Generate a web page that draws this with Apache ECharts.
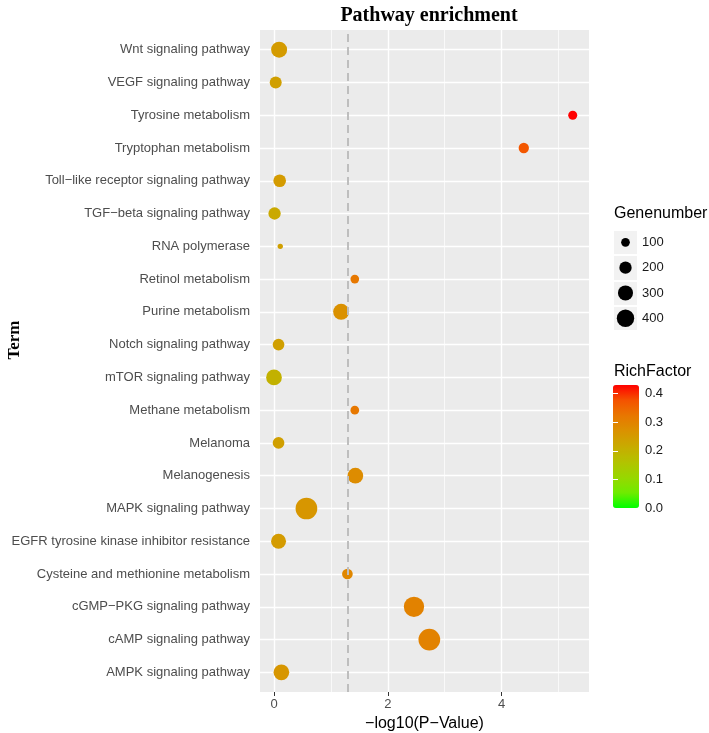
<!DOCTYPE html>
<html>
<head>
<meta charset="utf-8">
<script src="https://cdn.jsdelivr.net/npm/echarts@6/dist/echarts.min.js"></script>
<style>html,body{margin:0;padding:0;background:#fff}#c{width:709px;height:733px}</style>
</head>
<body>
<div id="c"></div>
<script>
// Terms listed bottom -> top (ggplot factor order)
const terms = [
  'AMPK signaling pathway',
  'cAMP signaling pathway',
  'cGMP\u2212PKG signaling pathway',
  'Cysteine and methionine metabolism',
  'EGFR tyrosine kinase inhibitor resistance',
  'MAPK signaling pathway',
  'Melanogenesis',
  'Melanoma',
  'Methane metabolism',
  'mTOR signaling pathway',
  'Notch signaling pathway',
  'Purine metabolism',
  'Retinol metabolism',
  'RNA polymerase',
  'TGF\u2212beta signaling pathway',
  'Toll\u2212like receptor signaling pathway',
  'Tryptophan metabolism',
  'Tyrosine metabolism',
  'VEGF signaling pathway',
  'Wnt signaling pathway'
];
const negLog10P = [0.13, 2.73, 2.46, 1.29, 0.08, 0.57, 1.43, 0.08, 1.42, 0.00, 0.08, 1.18, 1.42, 0.11, 0.01, 0.10, 4.39, 5.25, 0.03, 0.09];
const geneNumber = [325, 622, 545, 150, 297, 622, 325, 180, 100, 325, 180, 338, 100, 37, 200, 212, 141, 107, 190, 338];
const richFactor = [0.26, 0.30, 0.30, 0.29, 0.25, 0.26, 0.28, 0.24, 0.32, 0.20, 0.24, 0.27, 0.32, 0.24, 0.22, 0.25, 0.37, 0.43, 0.24, 0.25];

const xMajorTicks = [0, 2, 4];
const xMinorTicks = [1, 3, 5];
const cutoff = 1.301; // -log10(0.05)
const sizeBreaks = [100, 200, 300, 400];
const colorBreaks = [0, 0.1, 0.2, 0.3, 0.4];
const richMax = 0.43;
// green -> red gradient sampled in CIELAB (as ggplot)
const gradient = ['#00FF00', '#70EB00', '#98D700', '#B3C200', '#C8AB00', '#DA9200', '#E87700', '#F45300', '#FF0000'];

const SIZE_K = 0.87;
const sans = "'Liberation Sans', Arial, sans-serif";
const serif = "'Liberation Serif', 'Times New Roman', serif";

const yIdx = terms.map((t, i) => i + 1);
const points = terms.map((t, i) => [negLog10P[i], i + 1, geneNumber[i], richFactor[i]]);

const chart = echarts.init(document.getElementById('c'), null, {renderer: 'canvas'});

const gridMarks = [];
xMajorTicks.forEach(v => gridMarks.push({xAxis: v, lineStyle: {color: '#FFFFFF', width: 1.4, type: 'solid'}}));
xMinorTicks.forEach(v => gridMarks.push({xAxis: v, lineStyle: {color: '#FFFFFF', width: 0.7, type: 'solid'}}));
yIdx.forEach(v => gridMarks.push({yAxis: v, lineStyle: {color: '#FFFFFF', width: 1.4, type: 'solid'}}));

chart.setOption({
  animation: false,
  backgroundColor: '#FFFFFF',
  title: {
    text: 'Pathway enrichment',
    left: 424, top: 1, textAlign: 'center',
    textStyle: {fontFamily: serif, fontWeight: 'bold', fontSize: 20, color: '#000'}
  },
  grid: [
    {left: 260, right: 120, top: 30, bottom: 41, show: true, backgroundColor: '#EBEBEB', borderWidth: 0, outerBoundsMode: 'none', containLabel: false},
    {left: 614, top: 229.7, width: 23, height: 101.2, show: true, backgroundColor: '#F2F2F2', borderWidth: 0, outerBoundsMode: 'none', containLabel: false},
    {left: 613, top: 385, width: 26, height: 123, show: false, outerBoundsMode: 'none', containLabel: false}
  ],
  xAxis: [
    {
      type: 'value', gridIndex: 0, min: -0.246, max: 5.536,
      name: '\u2212log10(P\u2212Value)', nameLocation: 'middle', nameGap: 22,
      nameTextStyle: {fontFamily: sans, fontSize: 16, color: '#000'},
      axisLine: {show: false},
      axisTick: {show: true, customValues: xMajorTicks, length: 4, lineStyle: {color: '#333333', width: 1}},
      axisLabel: {customValues: xMajorTicks, margin: 6, fontFamily: sans, fontSize: 13, color: '#4D4D4D'},
      splitLine: {show: false}
    },
    {type: 'value', gridIndex: 1, min: -1, max: 1, show: false},
    {type: 'value', gridIndex: 2, min: 0, max: 1, show: false}
  ],
  yAxis: [
    {
      type: 'value', gridIndex: 0, min: 0.4, max: 20.6,
      axisLine: {show: false},
      axisTick: {show: true, customValues: yIdx, length: 4, lineStyle: {color: '#333333', width: 1}},
      axisLabel: {customValues: yIdx, margin: 10, fontFamily: sans, fontSize: 13, color: '#4D4D4D',
        formatter: v => terms[Math.round(v) - 1]},
      splitLine: {show: false}
    },
    {
      type: 'category', gridIndex: 1, data: sizeBreaks.map(String), inverse: true, position: 'right',
      axisLine: {show: false}, axisTick: {show: false},
      axisLabel: {margin: 5, fontFamily: sans, fontSize: 13, color: '#1A1A1A'},
      splitLine: {show: true, lineStyle: {color: '#FFFFFF', width: 2}}
    },
    {
      type: 'value', gridIndex: 2, min: 0, max: richMax, position: 'right', z: 10,
      axisLine: {show: false},
      axisTick: {show: true, inside: true, length: 5, customValues: colorBreaks, lineStyle: {color: '#FFFFFF', width: 1}},
      axisLabel: {customValues: colorBreaks, margin: 6, fontFamily: sans, fontSize: 13, color: '#1A1A1A',
        formatter: v => v.toFixed(1)},
      splitLine: {show: false}
    },
    {
      type: 'value', gridIndex: 2, min: 0, max: richMax, position: 'left', z: 10,
      axisLine: {show: false},
      axisTick: {show: true, inside: true, length: 5, customValues: colorBreaks, lineStyle: {color: '#FFFFFF', width: 1}},
      axisLabel: {show: false},
      splitLine: {show: false}
    }
  ],
  visualMap: {
    type: 'continuous', seriesIndex: 1, dimension: 3, min: 0, max: richMax,
    show: true, calculable: false, left: 613, top: 385, itemWidth: 26, itemHeight: 123,
    padding: 0, text: null, showLabel: false, hoverLink: false,
    inRange: {color: gradient}
  },
  graphic: [
    {type: 'text', x: 15, y: 340, rotation: Math.PI / 2,
      style: {text: 'Term', align: 'center', verticalAlign: 'middle', font: 'bold 17px ' + serif, fill: '#000'}},
    {type: 'text', left: 614, top: 206, style: {text: 'Genenumber', font: '16px ' + sans, fill: '#000'}},
    {type: 'text', left: 614, top: 364, style: {text: 'RichFactor', font: '16px ' + sans, fill: '#000'}}
  ],
  series: [
    {
      type: 'line', xAxisIndex: 0, yAxisIndex: 0, data: [], z: 1, silent: true,
      markLine: {silent: true, z: 1, symbol: ['none', 'none'], label: {show: false}, animation: false, data: gridMarks}
    },
    {
      type: 'scatter', xAxisIndex: 0, yAxisIndex: 0, z: 3, data: points,
      symbol: 'circle', symbolSize: v => SIZE_K * Math.sqrt(v[2]),
      itemStyle: {opacity: 1, borderWidth: 0}
    },
    {
      type: 'line', xAxisIndex: 0, yAxisIndex: 0, data: [], z: 6, silent: true,
      markLine: {silent: true, z: 6, symbol: ['none', 'none'], label: {show: false}, animation: false,
        data: [{xAxis: cutoff, lineStyle: {color: '#BEBEBE', width: 2, type: [8, 5]}}]}
    },
    {
      type: 'scatter', xAxisIndex: 1, yAxisIndex: 1, z: 3,
      data: sizeBreaks.map(b => [0, String(b), b]),
      symbol: 'circle', symbolSize: v => SIZE_K * Math.sqrt(v[2]),
      itemStyle: {color: '#000000', opacity: 1}
    }
  ]
});
</script>
</body>
</html>
